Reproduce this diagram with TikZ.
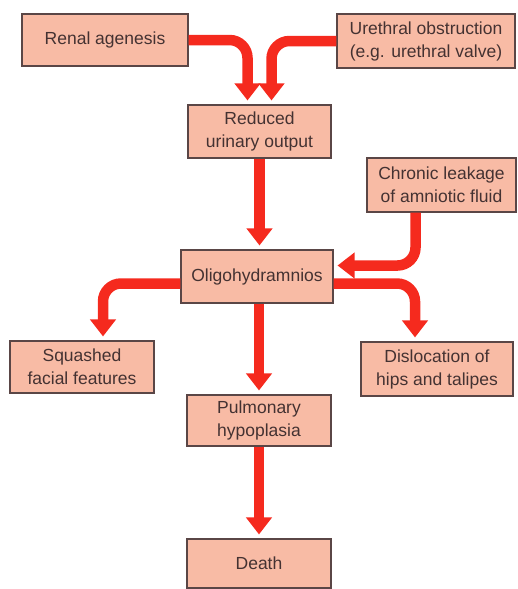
\documentclass[tikz,border=0pt]{standalone}
\usepackage{fontspec}
\setmainfont{Liberation Sans}
\usetikzlibrary{arrows.meta,positioning}
\definecolor{boxfill}{HTML}{F8BBA5}
\definecolor{boxline}{HTML}{5A4646}
\definecolor{flowred}{HTML}{F52A1E}
\definecolor{textink}{HTML}{443232}
\tikzset{
  causebox/.style={
    draw=boxline, fill=boxfill, line width=1.1pt,
    align=center, inner sep=2pt, text=textink,
    font=\fontsize{17.5}{23}\selectfont
  },
  flow/.style={
    draw=flowred, line width=10.5pt, rounded corners=18pt,
    -{Triangle[width=25pt,length=17pt]}, shorten >=4pt
  }
}

\begin{document}
\begin{tikzpicture}[x=1pt,y=-1pt]
  \useasboundingbox (0,0) rectangle (518,589);

  % causes
  \node[causebox,minimum width=166pt,minimum height=52pt] (renal) at (105,40) {Renal agenesis};
  \node[causebox,minimum width=178pt,minimum height=54pt] (urethral) at (426,41) {Urethral obstruction\\(e.g. urethral valve)};
  \node[causebox,minimum width=143pt,minimum height=53pt] (reduced) at (259.5,131.5) {Reduced\\urinary output};
  \node[causebox,minimum width=149pt,minimum height=54pt] (leakage) at (441.5,185) {Chronic leakage\\of amniotic fluid};
  \node[causebox,minimum width=152pt,minimum height=53pt] (oligo) at (257,276.5) {Oligohydramnios};

  % consequences
  \node[causebox,minimum width=144pt,minimum height=52pt] (squashed) at (82,367) {Squashed\\facial features};
  \node[causebox,minimum width=152pt,minimum height=54pt] (hips) at (437,369) {Dislocation of\\hips and talipes};
  \node[causebox,minimum width=144pt,minimum height=51pt] (pulmonary) at (259,420.5) {Pulmonary\\hypoplasia};
  \node[causebox,minimum width=144pt,minimum height=49pt] (death) at (259,563.5) {Death};

  % arrows
  \draw[flow] (renal.east) -| ([xshift=-12pt]reduced.north);
  \draw[flow] (urethral.west) -| ([xshift=12pt]reduced.north);
  \draw[flow] (reduced.south) -- (reduced.south |- oligo.north);
  \draw[flow] ([xshift=-26pt]leakage.south) |- ([yshift=11pt]oligo.east);
  \draw[flow] ([yshift=-7pt]oligo.west) -| ([xshift=21pt]squashed.north);
  \draw[flow] ([yshift=-7pt]oligo.east) -| ([xshift=-22pt]hips.north);
  \draw[flow] (pulmonary.north |- oligo.south) -- (pulmonary.north);
  \draw[flow] (pulmonary.south) -- (death.north);
\end{tikzpicture}
\end{document}
